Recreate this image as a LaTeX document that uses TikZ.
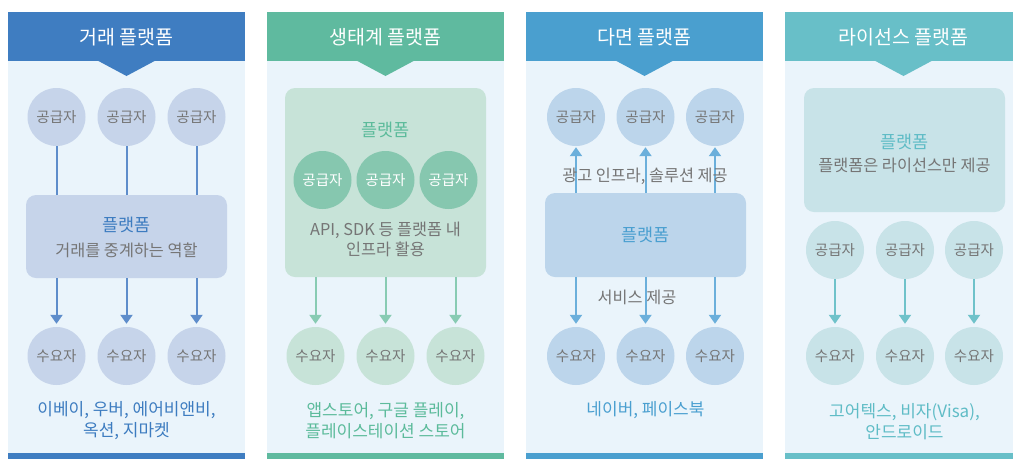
\documentclass[tikz,border=0pt]{standalone}
\usepackage{fontspec}
\setmainfont{Noto Sans CJK KR}
\usetikzlibrary{arrows.meta}
\definecolor{bgc}{HTML}{EAF4FB}
\definecolor{hA}{HTML}{3F7DC1}
\definecolor{hB}{HTML}{5FBA9F}
\definecolor{hC}{HTML}{4A9FCF}
\definecolor{hD}{HTML}{68BFC8}
\definecolor{cA}{HTML}{C6D4EA}
\definecolor{lA}{HTML}{5E8DCB}
\definecolor{tA}{HTML}{3D7CC0}
\definecolor{cB}{HTML}{C7E3D8}
\definecolor{iB}{HTML}{86C7AF}
\definecolor{lB}{HTML}{88CBB3}
\definecolor{tB}{HTML}{5CBB9B}
\definecolor{cC}{HTML}{BCD5EB}
\definecolor{lC}{HTML}{6BAFDB}
\definecolor{tC}{HTML}{4A9FD0}
\definecolor{cD}{HTML}{C8E3E8}
\definecolor{lD}{HTML}{6FC2CA}
\definecolor{tD}{HTML}{5FBCC6}
\definecolor{gtxt}{HTML}{757575}
\newcommand\mypanel[3]{%
  \fill[bgc] ({#1-118.5},12) rectangle ({#1+118.5},453);
  \fill[#2] ({#1-118.5},453) rectangle ({#1+118.5},459);
  \fill[#2] ({#1-118.5},12) rectangle ({#1+118.5},61);
  \fill[#2] ({#1-29},60.5) -- (#1,76) -- ({#1+29},60.5) -- cycle;
  \node[hdr] at (#1,37) {#3};}
\begin{document}
\begin{tikzpicture}[x=1pt,y=-1pt,
  hdr/.style={font=\fontsize{19.5}{22}\selectfont, text=white},
  circ/.style={circle, minimum size=58pt, inner sep=0pt, font=\fontsize{14.5}{16}\selectfont, text=gtxt},
  plat/.style={rounded corners=10pt, inner sep=0pt},
  ln/.style={line width=2pt},
  arr/.style={line width=2pt, -{Triangle[width=12pt,length=9pt]}},
  btm/.style={font=\fontsize{17}{21}\selectfont, align=center},
  desc/.style={font=\fontsize{16.3}{20}\selectfont, text=gtxt, align=center},
  ptitle/.style={font=\fontsize{17.5}{20}\selectfont}]
\useasboundingbox (0,0) rectangle (1013,459);
\clip (0,0) rectangle (1013,459);
\fill[white] (0,0) rectangle (1013,459);

% ---------- panel 1 ----------
\mypanel{126.5}{hA}{거래 플랫폼}
\node[plat, fill=cA, minimum width=201pt, minimum height=83pt] (pA) at (126.5,236.5) {};
\node[ptitle, text=tA] (pAt) at (126.5,225) {플랫폼};
\node[desc] (pAd) at (126.5,250) {거래를 중계하는 역할};
\foreach \i/\x in {1/56.5,2/126.5,3/196.5}{
  \node[circ, fill=cA] (sA\i) at (\x,117) {공급자};
  \node[circ, fill=cA] (dA\i) at (\x,356) {수요자};
  \draw[ln, lA] (sA\i.south) -- (sA\i.south |- pA.north);
  \draw[arr, lA, shorten >=3pt] (pA.south -| dA\i) -- (dA\i.north);
}
\node[btm, text=tA] (bA) at (126.5,420.5) {이베이, 우버, 에어비앤비,\\옥션, 지마켓};

% ---------- panel 2 ----------
\mypanel{385.5}{hB}{생태계 플랫폼}
\node[plat, fill=cB, minimum width=201pt, minimum height=189pt] (pB) at (385.5,182.5) {};
\node[ptitle, text=tB] (pBt) at (385.5,130) {플랫폼};
\foreach \i/\x in {1/322.5,2/385.5,3/448.5}{
  \node[circ, fill=iB, text=white] (sB\i) at (\x,180) {공급자};
}
\node[desc] (pBd) at (385.5,239) {API, SDK 등 플랫폼 내\\인프라 활용};
\foreach \i/\x in {1/315.5,2/385.5,3/455.5}{
  \node[circ, fill=cB] (dB\i) at (\x,356) {수요자};
  \draw[arr, lB, shorten >=3pt] (pB.south -| dB\i) -- (dB\i.north);
}
\node[btm, text=tB] (bB) at (385.5,420.5) {앱스토어, 구글 플레이,\\플레이스테이션 스토어};

% ---------- panel 3 ----------
\mypanel{644.5}{hC}{다면 플랫폼}
\node[plat, fill=cC, minimum width=201pt, minimum height=84pt] (pC) at (645.5,235) {};
\node[ptitle, text=tC] (pCt) at (645.5,235) {플랫폼};
\foreach \i/\x in {1/576,2/645.5,3/715}{
  \node[circ, fill=cC] (sC\i) at (\x,117) {공급자};
  \node[circ, fill=cC] (dC\i) at (\x,356) {수요자};
  \draw[arr, lC, shorten >=1pt] (pC.north -| sC\i) -- (sC\i.south);
  \draw[arr, lC, shorten >=3pt] (pC.south -| dC\i) -- (dC\i.north);
}
\node[desc] (lCa) at (645,176) {광고 인프라, 솔루션 제공};
\node[desc] (lCb) at (637,297) {서비스 제공};
\node[btm, text=tC] (bC) at (645.5,410) {네이버, 페이스북};

% ---------- panel 4 ----------
\mypanel{903.5}{hD}{라이선스 플랫폼}
\node[plat, fill=cD, minimum width=201pt, minimum height=124pt] (pD) at (904.5,150) {};
\node[ptitle, text=tD] (pDt) at (904.5,142) {플랫폼};
\node[desc] (pDd) at (904.5,165) {플랫폼은 라이선스만 제공};
\foreach \i/\x in {1/835,2/905,3/974}{
  \node[circ, fill=cD] (sD\i) at (\x,250) {공급자};
  \node[circ, fill=cD] (dD\i) at (\x,356) {수요자};
  \draw[arr, lD, shorten >=3pt] (sD\i.south) -- (dD\i.north);
}
\node[btm, text=tD] (bD) at (904.5,422) {고어텍스, 비자(Visa),\\안드로이드};
\end{tikzpicture}
\end{document}
